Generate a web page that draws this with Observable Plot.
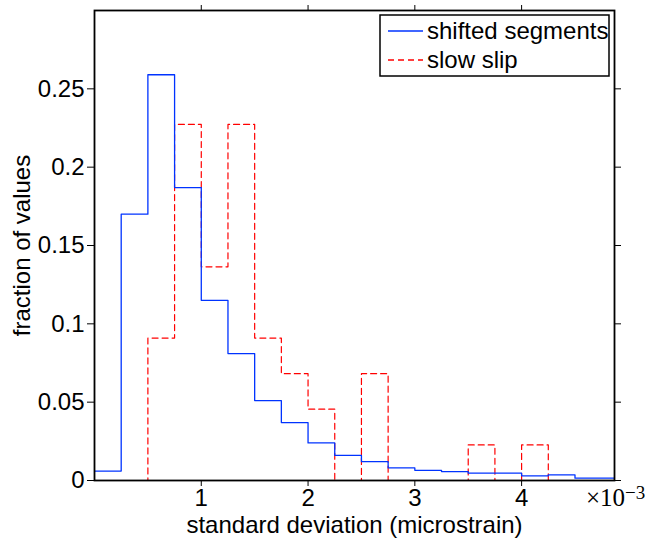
<!DOCTYPE html>
<html><head><meta charset="utf-8">
<script src="https://cdn.jsdelivr.net/npm/d3@7"></script>
<script src="https://cdn.jsdelivr.net/npm/@observablehq/plot@0.6"></script>
<style>body{margin:0;background:#fff}</style>
</head><body><div id="chart"></div>
<script>
// bin left edges, in units of 1e-3 microstrain
const binStarts = [0, 0.25, 0.5, 0.75, 1.0, 1.25, 1.5, 1.75, 2.0, 2.25, 2.5, 2.75, 3.0, 3.25, 3.5, 3.75, 4.0, 4.25, 4.5, 4.75];
const binWidth = 0.25;
const shiftedSegments = [0.006, 0.170, 0.259, 0.187, 0.115, 0.081, 0.051, 0.037, 0.024, 0.016, 0.012, 0.008, 0.0065, 0.0057, 0.0047, 0.0047, 0.0030, 0.0036, 0.0015, 0.0015];
const slowSlip = [0, 0, 0.0909, 0.2273, 0.1364, 0.2273, 0.0909, 0.0682, 0.0455, 0, 0.0682, 0, 0, 0, 0.0227, 0, 0.0227, 0, 0, 0];
const xTicks = [1, 2, 3, 4];
const yTicks = [0, 0.05, 0.1, 0.15, 0.2, 0.25];
const seriesNames = ["shifted segments", "slow slip"];

function steps(vals) {
  const pts = binStarts.map((x, i) => ({x: x * 1e-3, y: vals[i]}));
  pts.push({x: (binStarts[binStarts.length - 1] + binWidth) * 1e-3, y: vals[vals.length - 1]});
  return pts;
}

const W = 645, H = 540;
const font = "'Liberation Sans', Arial, Helvetica, sans-serif";
const xt = xTicks.map(d => d * 1e-3);

const plot = Plot.plot({
  width: W, height: H,
  marginLeft: 94, marginRight: 31, marginTop: 10, marginBottom: 60,
  style: {fontFamily: font, fontSize: "24px", color: "black", background: "white", overflow: "visible"},
  x: {domain: [0, 4.87e-3]},
  y: {domain: [0, 0.3]},
  marks: [
    Plot.line(steps(slowSlip), {x: "x", y: "y", curve: "step-after", stroke: "#ff0000", strokeWidth: 1.2, strokeDasharray: "6,4", clip: true}),
    Plot.line(steps(shiftedSegments), {x: "x", y: "y", curve: "step-after", stroke: "#0033ff", strokeWidth: 1.3, clip: true}),
    Plot.frame({stroke: "black", strokeWidth: 1.8}),
    Plot.axisX({anchor: "bottom", ticks: xt, tickSize: 6, tickPadding: 2, tickFormat: d => String(Math.round(d * 1000)),
      label: "standard deviation (microstrain)", labelAnchor: "center", labelArrow: "none", labelOffset: 52, fontSize: 24}),
    Plot.axisX({anchor: "top", ticks: xt, tickSize: 6, tickFormat: () => "", label: null}),
    Plot.axisY({anchor: "left", ticks: yTicks, tickSize: 7, tickPadding: 3, tickFormat: d => String(+d.toFixed(2)),
      label: "fraction of values", labelAnchor: "center", labelArrow: "none", labelOffset: 82, fontSize: 24}),
    Plot.axisY({anchor: "right", ticks: yTicks, tickSize: 6, tickFormat: () => "", label: null})
  ]
});
document.getElementById("chart").appendChild(plot);

const svg = d3.select(plot);
// x10^-3 multiplier
const serif = "'Liberation Serif', 'DejaVu Serif', serif";
const mult = svg.append("text").attr("x", 586).attr("y", 506).attr("text-anchor", "start")
  .style("font-family", serif).style("font-size", "25px").attr("fill", "black");
mult.append("tspan").style("font-size", "25px").text("×10");
mult.append("tspan").attr("dy", -7).style("font-size", "19px").text("−3");

// legend
const lg = svg.append("g").attr("text-anchor", "start");
lg.append("rect").attr("x", 380).attr("y", 15).attr("width", 229).attr("height", 61)
  .attr("fill", "white").attr("stroke", "black").attr("stroke-width", 1.5);
const legendStyles = [{stroke: "#0033ff", dash: null, y: 31}, {stroke: "#ff0000", dash: "6,4", y: 60}];
seriesNames.forEach((name, i) => {
  const s = legendStyles[i];
  lg.append("line").attr("x1", 388).attr("x2", 423).attr("y1", s.y).attr("y2", s.y)
    .attr("stroke", s.stroke).attr("stroke-width", 1.3).attr("stroke-dasharray", s.dash);
  lg.append("text").attr("x", 427).attr("y", s.y + 8).attr("text-anchor", "start")
    .style("font-family", font).style("font-size", "24px").attr("fill", "black").text(name);
});
</script>
</body></html>
